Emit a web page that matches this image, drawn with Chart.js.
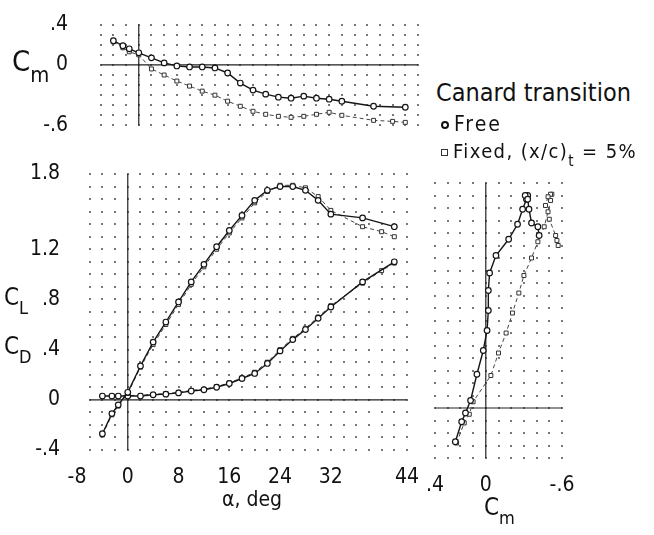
<!DOCTYPE html>
<html>
<head>
<meta charset="utf-8">
<script src="https://cdn.jsdelivr.net/npm/chart.js@4.4.1/dist/chart.umd.min.js"></script>
<style>
  body { margin: 0; background: #fff; }
  #wrap {
    position: relative; width: 654px; height: 535px; overflow: hidden;
    font-family: 'Liberation Sans Narrow', 'DejaVu Sans Condensed', 'Liberation Sans', sans-serif;
    color: #111;
  }
  canvas { position: absolute; }
  .lbl { position: absolute; white-space: nowrap; line-height: 1; }
  .lbl sub { font-size: 0.75em; vertical-align: -0.5em; line-height: 0; }
  .mk { display: inline-block; vertical-align: middle; margin-right: 5px; box-sizing: border-box; }
  .mk.circ { width: 8px; height: 8px; border: 2.5px solid #111; border-radius: 50%; }
  .mk.sq { width: 7px; height: 7px; border: 1.2px solid #333; }
</style>
</head>
<body>
<div id="wrap">
  <canvas id="cmChart" width="430" height="150" style="left:0px;top:0px"></canvas>
  <canvas id="clChart" width="430" height="340" style="left:0px;top:150px"></canvas>
  <canvas id="polarChart" width="160" height="340" style="left:420px;top:160px"></canvas>

  <div class="lbl" style="left:12px;top:47px;font-size:29px">C<sub>m</sub></div>
  <div class="lbl" style="left:4px;top:285px;font-size:24px">C<sub>L</sub></div>
  <div class="lbl" style="left:4px;top:334px;font-size:24px">C<sub>D</sub></div>
  <div class="lbl" style="left:222px;top:489px;font-size:21px">α, deg</div>
  <div class="lbl" style="left:484px;top:495px;font-size:24px">C<sub>m</sub></div>

  <div class="lbl" style="left:436px;top:80px;font-size:25px">Canard transition</div>
  <div class="lbl" style="left:441px;top:114px;font-size:21px;letter-spacing:2px"><span class="mk circ"></span>Free</div>
  <div class="lbl" style="left:441px;top:141px;font-size:20px;letter-spacing:1.4px"><span class="mk sq"></span>Fixed, (x/c)<sub>t</sub> = 5%</div>
</div>

<script>
// angle of attack, deg
const alphaFree  = [-4, -2.5, -1.5, 0, 2, 4, 6, 8, 10, 12, 14, 16, 18, 20, 22, 24, 26, 28, 30, 32, 37, 42];
const alphaFixed = [-4, -2.5, -1.5, 0, 2, 4, 6, 8, 10, 12, 14, 16, 18, 20, 22, 24, 26, 28, 30, 32, 37, 40, 42];

// lift coefficient
const clFree  = [-0.27, -0.11, -0.04, 0.06, 0.27, 0.46, 0.62, 0.78, 0.94, 1.08, 1.22, 1.35, 1.47, 1.59, 1.67, 1.70, 1.70, 1.67, 1.59, 1.48, 1.45, 1.38];
const clFixed = [-0.28, -0.12, -0.05, 0.05, 0.26, 0.44, 0.60, 0.76, 0.92, 1.06, 1.20, 1.33, 1.45, 1.57, 1.66, 1.71, 1.71, 1.69, 1.62, 1.51, 1.38, 1.34, 1.30];

// drag coefficient
const cdFree  = [0.03, 0.03, 0.03, 0.03, 0.03, 0.04, 0.045, 0.055, 0.07, 0.08, 0.10, 0.13, 0.17, 0.21, 0.29, 0.39, 0.48, 0.56, 0.65, 0.74, 0.94, 1.10];
const cdFixed = [0.03, 0.03, 0.03, 0.035, 0.035, 0.045, 0.05, 0.06, 0.075, 0.085, 0.105, 0.135, 0.175, 0.22, 0.30, 0.40, 0.49, 0.57, 0.66, 0.75, 0.93, 1.03, 1.09];

// pitching moment coefficient
const cmFree  = [0.24, 0.19, 0.16, 0.12, 0.07, 0.02, -0.01, -0.02, -0.02, -0.03, -0.08, -0.18, -0.25, -0.29, -0.32, -0.33, -0.31, -0.33, -0.34, -0.36, -0.41, -0.42];
const cmFixed = [0.23, 0.17, 0.13, 0.10, -0.04, -0.10, -0.16, -0.21, -0.26, -0.30, -0.36, -0.41, -0.46, -0.49, -0.51, -0.52, -0.51, -0.49, -0.47, -0.50, -0.55, -0.56, -0.57];

// tick values and their printed labels
const alphaTicks = [-8, 0, 8, 16, 24, 32, 44];
const alphaTickLabels = ['-8', '0', '8', '16', '24', '32', '44'];
const clTicks = [-0.4, 0, 0.4, 0.8, 1.2, 1.8];
const clTickLabels = ['-.4', '0', '.4', '.8', '1.2', '1.8'];
const cmTicks = [-0.6, 0, 0.4];
const cmTickLabels = ['-.6', '0', '.4'];

const FONT = "'Liberation Sans Narrow', 'DejaVu Sans Condensed', 'Liberation Sans', sans-serif";
Chart.defaults.font.family = FONT;
Chart.defaults.color = '#111';

const pairs = (xs, ys) => xs.map((v, i) => ({ x: v, y: ys[i] }));

// dotted grid at every minor step plus the two zero axes
const dotGrid = {
    id: 'dotGrid',
    beforeDatasetsDraw(chart, args, opts) {
        const { ctx } = chart;
        const xs = chart.scales.x, ys = chart.scales.y;
        const nx = Math.round((opts.x[1] - opts.x[0]) / opts.x[2]);
        const ny = Math.round((opts.y[1] - opts.y[0]) / opts.y[2]);
        ctx.save();
        ctx.fillStyle = '#777';
        for (let i = 0; i <= nx; i++) {
            const px = Math.round(xs.getPixelForValue(opts.x[0] + i * opts.x[2]));
            for (let j = 0; j <= ny; j++) {
                const py = Math.round(ys.getPixelForValue(opts.y[0] + j * opts.y[2]));
                ctx.fillRect(px - 1, py - 1, 2, 2);
            }
        }
        const x0 = xs.getPixelForValue(0), y0 = ys.getPixelForValue(0);
        ctx.strokeStyle = '#222';
        ctx.lineWidth = 1.2;
        ctx.beginPath();
        ctx.moveTo(xs.getPixelForValue(opts.x[0]), y0);
        ctx.lineTo(xs.getPixelForValue(opts.x[1]), y0);
        ctx.moveTo(x0, ys.getPixelForValue(opts.y[0]));
        ctx.lineTo(x0, ys.getPixelForValue(opts.y[1]));
        ctx.stroke();
        ctx.restore();
    }
};

// linear axis with fixed ticks and hand-lettered labels
const makeAxis = (min, max, ticks, labels, extra) => Object.assign({
    type: 'linear',
    min: min,
    max: max,
    grid: { display: false },
    border: { display: false },
    afterBuildTicks: (axis) => { axis.ticks = ticks.map(v => ({ value: v })); },
    ticks: {
        autoSkip: false,
        maxRotation: 0,
        font: { size: 21 },
        color: '#111',
        callback: (v) => labels[ticks.findIndex(t => Math.abs(t - v) < 1e-9)]
    }
}, extra);

const freeStyle = {
    label: 'Free',
    showLine: true,
    borderColor: '#151515',
    borderWidth: 1.4,
    pointStyle: 'circle',
    pointRadius: 2.8,
    pointBorderWidth: 1.2,
    pointBorderColor: '#151515',
    pointBackgroundColor: '#fff'
};
const fixedStyle = {
    label: 'Fixed',
    showLine: true,
    borderColor: '#444',
    borderWidth: 1,
    borderDash: [4, 3],
    pointStyle: 'rect',
    pointRadius: 2.8,
    pointBorderWidth: 1,
    pointBorderColor: '#333',
    pointBackgroundColor: '#fff'
};

const baseOptions = (padding) => ({
    responsive: false,
    animation: false,
    devicePixelRatio: 1,
    layout: { padding: padding },
    plugins: { legend: { display: false }, tooltip: { enabled: false } }
});

// Cm vs alpha (top)
const cmOpts = baseOptions({ top: 20, right: 12, bottom: 5, left: 0 });
cmOpts.plugins.dotGrid = { x: [-6, 44, 2], y: [-0.6, 0.4, 0.1] };
cmOpts.scales = {
    x: makeAxis(-8, 44, alphaTicks, alphaTickLabels, { display: false }),
    y: makeAxis(-0.6, 0.4, cmTicks, cmTickLabels, { afterFit: (s) => { s.width = 88; } })
};
cmOpts.scales.y.ticks.padding = 12;
new Chart(document.getElementById('cmChart'), {
    type: 'scatter',
    data: {
        datasets: [
            Object.assign({ data: pairs(alphaFree, cmFree) }, freeStyle),
            Object.assign({ data: pairs(alphaFixed, cmFixed) }, fixedStyle)
        ]
    },
    options: cmOpts,
    plugins: [dotGrid]
});

// CL and CD vs alpha (main)
const clOpts = baseOptions({ top: 24, right: 23, bottom: 0, left: 0 });
clOpts.plugins.dotGrid = { x: [-6, 44, 2], y: [-0.4, 1.8, 0.1] };
clOpts.scales = {
    x: makeAxis(-8, 44, alphaTicks, alphaTickLabels, { afterFit: (s) => { s.height = 40; } }),
    y: makeAxis(-0.4, 1.8, clTicks, clTickLabels, { afterFit: (s) => { s.width = 77; } })
};
clOpts.scales.x.ticks.padding = 7;
clOpts.scales.y.ticks.padding = 9;
new Chart(document.getElementById('clChart'), {
    type: 'scatter',
    data: {
        datasets: [
            Object.assign({ data: pairs(alphaFree, clFree) }, freeStyle),
            Object.assign({ data: pairs(alphaFixed, clFixed) }, fixedStyle),
            Object.assign({ data: pairs(alphaFree, cdFree) }, freeStyle),
            Object.assign({ data: pairs(alphaFixed, cdFixed) }, fixedStyle)
        ]
    },
    options: clOpts,
    plugins: [dotGrid]
});

// CL vs Cm (right)
const polarOpts = baseOptions({ top: 23, right: 18, bottom: 0, left: 15 });
polarOpts.plugins.dotGrid = { x: [-0.6, 0.4, 0.1], y: [-0.4, 1.8, 0.1] };
polarOpts.scales = {
    x: makeAxis(-0.6, 0.4, cmTicks, cmTickLabels, { reverse: true, afterFit: (s) => { s.height = 42; } }),
    y: makeAxis(-0.4, 1.8, clTicks, clTickLabels, { display: false })
};
polarOpts.scales.x.ticks.padding = 7;
new Chart(document.getElementById('polarChart'), {
    type: 'scatter',
    data: {
        datasets: [
            Object.assign({ data: pairs(cmFree, clFree) }, freeStyle),
            Object.assign({ data: pairs(cmFixed, clFixed) }, fixedStyle)
        ]
    },
    options: polarOpts,
    plugins: [dotGrid]
});
</script>
</body>
</html>
